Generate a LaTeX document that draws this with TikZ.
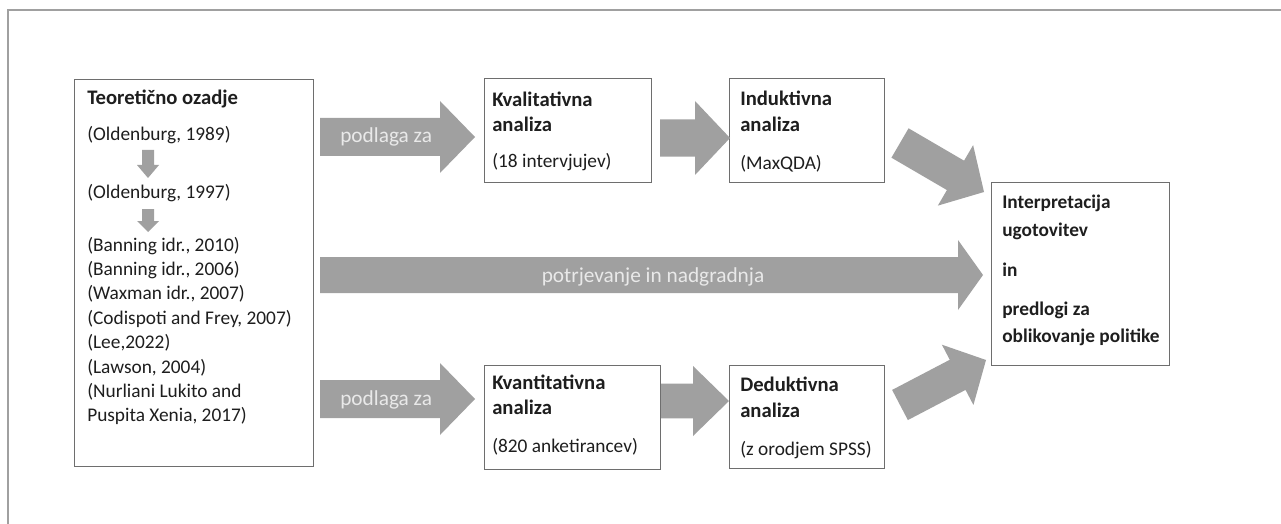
\documentclass[tikz,border=0pt]{standalone}
\usepackage{fontspec}
\setmainfont{Carlito}
\usetikzlibrary{calc}
\definecolor{arrowgray}{HTML}{A0A0A0}
\definecolor{arrowtext}{HTML}{E9E9E9}
\definecolor{boxline}{HTML}{6E6E6E}
\definecolor{framegray}{HTML}{A0A0A0}
\definecolor{txt}{HTML}{1E1E1E}
\newcommand\blkarrow[6][]{%
  \path ($(#3)!#6!(#2)$) coordinate (bh);
  \fill[arrowgray,#1] ($(#2)!#4!90:(#3)$) -- ($(bh)!#4!90:(#3)$) -- ($(bh)!#5!90:(#3)$) -- (#3)
    -- ($(bh)!#5!-90:(#3)$) -- ($(bh)!#4!-90:(#3)$) -- ($(#2)!#4!-90:(#3)$) -- cycle;
}
\begin{document}
\begin{tikzpicture}[x=0.75pt,y=-0.75pt,
  box/.style={draw=boxline,line width=0.9pt,fill=white,inner sep=0pt,anchor=north west},
  lbl/.style={anchor=base west,inner sep=0pt,text=txt,font=\fontsize{14.5}{18}\selectfont},
  blbl/.style={lbl,font=\fontsize{15.5}{18}\selectfont\bfseries},
  plbl/.style={lbl,font=\fontsize{14.5}{18}\selectfont\bfseries},
  atxt/.style={inner sep=0pt,text=arrowtext,font=\fontsize{16}{19}\selectfont}]
\useasboundingbox (0,0) rectangle (1281,524);
\fill[white] (0,0) rectangle (1281,524);
% frame
\draw[framegray,line width=1.2pt] (8,524) -- (8,10) -- (1281,10);
% boxes
\node[box,minimum width=179.25pt,minimum height=290.25pt] (theory) at (74,79) {};
\node[box,minimum width=125.25pt,minimum height=78pt] (kval) at (484,78) {};
\node[box,minimum width=116.25pt,minimum height=78pt] (indu) at (729,78) {};
\node[box,minimum width=132pt,minimum height=78pt] (kvan) at (484,365) {};
\node[box,minimum width=116.25pt,minimum height=77.25pt] (dedu) at (729,365) {};
\node[box,minimum width=133.5pt,minimum height=137.25pt] (interp) at (991,182) {};
% theory text
\node[blbl] (t0) at (87,105) {Teoretično ozadje};
\node[lbl] (t1) at (87,141) {(Oldenburg, 1989)};
\node[lbl] (t2) at (87,199) {(Oldenburg, 1997)};
\node[lbl] (t3) at (87,251) {(Banning idr., 2010)};
\node[lbl] (t4) at (87,275.4) {(Banning idr., 2006)};
\node[lbl] (t5) at (87,299.8) {(Waxman idr., 2007)};
\node[lbl] (t6) at (87,324.2) {(Codispoti and Frey, 2007)};
\node[lbl] (t7) at (87,348.6) {(Lee,2022)};
\node[lbl] (t8) at (87,373) {(Lawson, 2004)};
\node[lbl] (t9) at (87,397.4) {(Nurliani Lukito and};
\node[lbl] (t10) at (87,421.8) {Puspita Xenia, 2017)};
% small arrows
\coordinate (s1a) at (148,150); \coordinate (s1b) at (148,178);
\coordinate (s2a) at (148,209); \coordinate (s2b) at (148,232);
\blkarrow{s1a}{s1b}{4.5pt}{8.25pt}{9.75pt}
\blkarrow{s2a}{s2b}{4.5pt}{8.25pt}{8.25pt}
% other box texts
\node[blbl] (k1) at (492,107) {Kvalitativna};
\node[blbl] (k2) at (492,132) {analiza};
\node[lbl] (k3) at (492,167) {(18 intervjujev)};
\node[blbl] (i1) at (740,106) {Induktivna};
\node[blbl] (i2) at (740,132) {analiza};
\node[lbl] (i3) at (740,170) {(MaxQDA)};
\node[blbl] (q1) at (492,389) {Kvantitativna};
\node[blbl] (q2) at (492,414) {analiza};
\node[lbl] (q3) at (492,452) {(820 anketirancev)};
\node[blbl] (d1) at (740,391) {Deduktivna};
\node[blbl] (d2) at (740,417) {analiza};
\node[lbl] (d3) at (740,455) {(z orodjem SPSS)};
\node[plbl] (p1) at (1002,209) {Interpretacija};
\node[plbl] (p2) at (1002,236) {ugotovitev};
\node[plbl] (p3) at (1002,276) {in};
\node[plbl] (p4) at (1002,315) {predlogi za};
\node[plbl] (p5) at (1002,342) {oblikovanje politike};
% big arrows
\coordinate (a1t) at ($(theory.east |- 0,137)+(6,0)$); \coordinate (a1h) at ($(kval.west |- 0,137)+(-9,0)$);
\coordinate (a2t) at ($(kval.east |- 0,138)+(8,0)$); \coordinate (a2h) at ($(indu.west |- 0,138)+(1,0)$);
\coordinate (a3t) at ($(theory.east |- 0,275)+(6,0)$); \coordinate (a3h) at ($(interp.west |- 0,275)+(-8,0)$);
\coordinate (a4t) at ($(theory.east |- 0,399)+(6,0)$); \coordinate (a4h) at ($(kvan.west |- 0,399)+(-9,0)$);
\coordinate (a5t) at ($(kvan.east |- 0,401)+(0,0)$); \coordinate (a5h) at ($(dedu.west |- 0,401)+(0,0)$);
\coordinate (a6t) at (900,143); \coordinate (a6h) at (984,192);
\coordinate (a7t) at (900,405); \coordinate (a7h) at (986,360);
\blkarrow{a1t}{a1h}{14.25pt}{27pt}{26.25pt}
\blkarrow{a2t}{a2h}{13.9pt}{27.75pt}{26.25pt}
\blkarrow{a3t}{a3h}{13.5pt}{26.25pt}{18.75pt}
\blkarrow{a4t}{a4h}{14.25pt}{27pt}{26.25pt}
\blkarrow{a5t}{a5h}{13.1pt}{26.25pt}{27pt}
\blkarrow{a6t}{a6h}{12.75pt}{26.25pt}{24.75pt}
\blkarrow{a7t}{a7h}{12.75pt}{25.5pt}{24pt}
% arrow texts
\node[atxt,anchor=base west] (pz1) at (340,143) {podlaga za};
\node[atxt,anchor=base west] (pz2) at (340,405) {podlaga za};
\node[atxt,anchor=base] (pn) at (653,282) {potrjevanje in nadgradnja};
\end{tikzpicture}
\end{document}
